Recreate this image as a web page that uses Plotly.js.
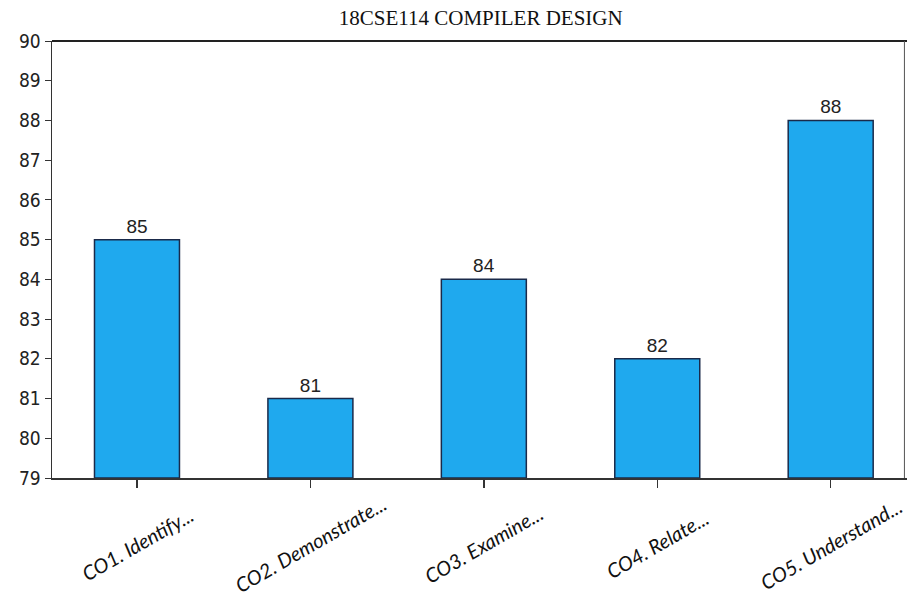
<!DOCTYPE html>
<html>
<head>
<meta charset="utf-8">
<script src="https://cdn.plot.ly/plotly-3.0.1.min.js"></script>
<style>html,body{margin:0;padding:0;background:#fff;}</style>
</head>
<body>
<div id="chart" style="width:907px;height:598px;"></div>
<script>
const categories = ["CO1. Identify...", "CO2. Demonstrate...", "CO3. Examine...", "CO4. Relate...", "CO5. Understand..."];
const values = [85, 81, 84, 82, 88];
const yTicks = [79, 80, 81, 82, 83, 84, 85, 86, 87, 88, 89, 90];
const yBase = 79;

const trace = {
  type: "bar",
  x: categories,
  y: values.map(v => v - yBase),
  base: yBase,
  width: 0.49,
  marker: {color: "#1fa9ee", line: {color: "#1a2a4a", width: 1.5}},
  text: values.map(String),
  textposition: "outside",
  cliponaxis: false,
  textfont: {family: "Liberation Sans, Arial, sans-serif", size: 19, color: "#222"},
  hoverinfo: "none"
};

// category labels, centred under each tick and rotated like the original
const labelAnnotations = categories.map(c => ({
  x: c, xref: "x", y: -0.15, yref: "paper",
  text: c, showarrow: false, textangle: -30,
  xanchor: "center", yanchor: "middle",
  font: {family: "Lato, Open Sans, sans-serif", size: 20, color: "#111", style: "italic"}
}));

const layout = {
  width: 907, height: 598,
  margin: {l: 52, r: 0, t: 41, b: 120},
  paper_bgcolor: "#ffffff",
  plot_bgcolor: "#ffffff",
  showlegend: false,
  title: {text: "18CSE114 COMPILER DESIGN", x: 0.53, xanchor: "center", y: 0.982, yanchor: "top",
          font: {family: "Liberation Serif, Times New Roman, serif", size: 21, color: "#111"}},
  xaxis: {
    type: "category",
    range: [-0.49, 4.44],
    showline: true, linecolor: "#333", linewidth: 2,
    ticks: "outside", ticklen: 8, tickcolor: "#333", tickwidth: 1.5,
    showticklabels: false,
    showgrid: false, zeroline: false, fixedrange: true
  },
  yaxis: {
    range: [79, 90],
    tickvals: yTicks,
    ticktext: yTicks.map(String),
    showline: true, linecolor: "#333", linewidth: 1.5,
    ticks: "outside", ticklen: 6, tickcolor: "#333",
    tickfont: {family: "Liberation Sans Narrow, DejaVu Sans Condensed, sans-serif", size: 19, color: "#222"},
    showgrid: false, zeroline: false, mirror: false, fixedrange: true
  },
  annotations: labelAnnotations,
  shapes: [
    {type: "line", xref: "paper", yref: "paper", x0: 0, x1: 1, y0: 1, y1: 1, line: {color: "#222", width: 2}},
    {type: "line", xref: "paper", yref: "paper", x0: 0.997, x1: 0.997, y0: 0, y1: 1, line: {color: "#555", width: 1}}
  ]
};
Plotly.newPlot("chart", [trace], layout, {displayModeBar: false, staticPlot: true});
</script>
</body>
</html>
